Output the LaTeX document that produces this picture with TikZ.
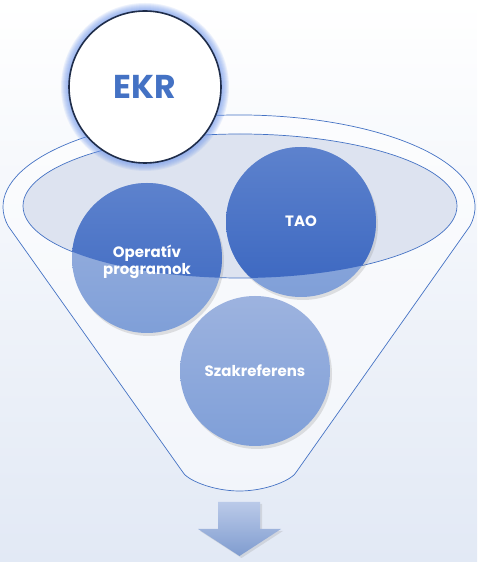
\documentclass[tikz,border=0pt]{standalone}
\usepackage{fontspec}
\setmainfont{Poppins}
\usetikzlibrary{shadows}
\definecolor{ekrblue}{HTML}{4472C4}
\definecolor{ekrline}{HTML}{1F2D4A}
\definecolor{ekrglow}{HTML}{6F97EC}
\definecolor{darktop}{HTML}{5D82CD}
\definecolor{darkbot}{HTML}{3A66C0}
\definecolor{lighttop}{HTML}{9DB3DF}
\definecolor{lightbot}{HTML}{7F9FD8}
\definecolor{rimfill}{HTML}{DDE3F0}
\definecolor{bgbot}{HTML}{E2E9F5}
\begin{document}
\begin{tikzpicture}[x=1pt, y=1pt, every node/.style={font=\bfseries\fontsize{15}{17}\selectfont, text=white, align=center},
  funnel/.style={draw=ekrblue, line width=0.7pt},
  bubble/.style={circle, minimum size=150pt, inner sep=0pt, top color=lighttop, bottom color=lightbot,
    drop shadow={opacity=0.22, shadow xshift=2pt, shadow yshift=-3pt}},
  label/.style={inner sep=0pt}]
\useasboundingbox (0,0) rectangle (477,562);
\shade[top color=white, bottom color=bgbot] (0,0) rectangle (477,562);
\coordinate (ekrc) at (145,475);
\draw[funnel, fill=white, fill opacity=0.5] (8.2,335.9) arc[start angle=192, end angle=-12, x radius=236pt, y radius=92pt]
  -- (297,91) .. controls (293,82) and (266,71) .. (239.5,71) .. controls (213,71) and (186,82) .. (182,91) -- cycle;
\draw[funnel, fill=rimfill] (240,356) ellipse [x radius=217pt, y radius=72pt];
\node[bubble] (op) at (147,304) {};
\node[bubble] (tao) at (301,340) {};
\node[bubble] (szak) at (255,191) {};
\begin{scope}
\clip (240,356) ellipse [x radius=217pt, y radius=72pt];
\shade[top color=darktop, bottom color=darkbot] (op.center) circle (75pt);
\shade[top color=darktop, bottom color=darkbot] (tao.center) circle (75pt);
\end{scope}
\node[label] (oplabel) at (147,300) {Operatív\\programok};
\node[label] (taolabel) at (301,341) {TAO};
\node[label] (szaklabel) at (255,191) {Szakreferens};
\foreach \r in {77,...,84} \fill[ekrglow, opacity=0.12] (ekrc) circle (\r pt);
\node[circle, minimum size=152pt, inner sep=0pt, fill=white, draw=ekrline, line width=1.6pt,
  font=\bfseries\fontsize{33}{34}\selectfont, text=ekrblue] (ekr) at (ekrc) {EKR};
\shade[top color=lighttop!70!white, bottom color=lightbot!90!gray, drop shadow={opacity=0.2, shadow xshift=2pt, shadow yshift=-2pt}]
  (218,60) -- (260,60) -- (260,33) -- (281,33) -- (239.5,6) -- (198,33) -- (218,33) -- cycle;
\end{tikzpicture}
\end{document}
